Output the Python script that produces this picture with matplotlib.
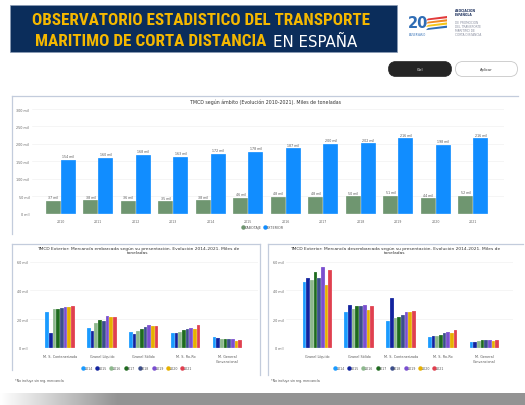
import matplotlib
matplotlib.use('Agg')
import matplotlib.pyplot as plt
import numpy as np
from matplotlib.patches import Rectangle, FancyBboxPatch, Polygon
from matplotlib.lines import Line2D
from matplotlib import font_manager

# ---------------- data ----------------
years_top = ['2010', '2011', '2012', '2013', '2014', '2015', '2016', '2017', '2018', '2019', '2020', '2021']
cabotaje = [37, 38, 36, 35, 38, 46, 48, 48, 50, 51, 44, 52]
exterior = [154, 160, 168, 163, 172, 178, 187, 200, 202, 216, 198, 216]
top_ticks = [0, 50, 100, 150, 200, 250, 300]

years_bottom = ['2014', '2015', '2016', '2017', '2018', '2019', '2020', '2021']
cats_emb = ['M. S. Contenerizada', 'Granel Líquido', 'Granel Sólido', 'M. S. Ro-Ro', 'M. General\nConvencional']
emb_2014 = [24.8, 14.1, 10.9, 10.7, 7.6]
emb_2015 = [10.2, 11.8, 9.5, 10.7, 6.7]
emb_2016 = [26.9, 17.4, 12.0, 11.4, 6.5]
emb_2017 = [27.3, 19.2, 13.2, 12.3, 6.3]
emb_2018 = [27.8, 18.5, 14.4, 13.0, 6.3]
emb_2019 = [28.7, 22.2, 15.8, 13.9, 6.0]
emb_2020 = [28.7, 21.8, 15.5, 13.0, 4.9]
emb_2021 = [29.4, 21.3, 15.3, 16.2, 5.3]

cats_des = ['Granel Líquido', 'Granel Sólido', 'M. S. Contenerizada', 'M. S. Ro-Ro', 'M. General\nConvencional']
des_2014 = [45.7, 24.8, 18.5, 7.6, 3.9]
des_2015 = [48.7, 29.7, 34.5, 8.6, 4.2]
des_2016 = [47.3, 27.1, 20.6, 8.6, 4.6]
des_2017 = [52.6, 29.4, 21.6, 9.3, 5.3]
des_2018 = [48.4, 29.2, 22.9, 10.7, 5.6]
des_2019 = [56.3, 29.7, 24.8, 11.4, 5.6]
des_2020 = [43.8, 26.2, 25.3, 10.7, 5.1]
des_2021 = [54.2, 29.2, 26.0, 12.7, 5.8]
bottom_ticks = [0, 20, 40, 60]

emb_series = [emb_2014, emb_2015, emb_2016, emb_2017, emb_2018, emb_2019, emb_2020, emb_2021]
des_series = [des_2014, des_2015, des_2016, des_2017, des_2018, des_2019, des_2020, des_2021]

# ---------------- style ----------------
W, H = 525, 406
C_CAB = '#6F9670'
C_EXT = '#118DFF'
YEAR_COLORS = ['#1A9BFF', '#12239E', '#8DB88D', '#1E6B1E', '#3B4E8C', '#7A4FD0', '#E6B000', '#E0404F']
BORDER = '#C3CCDC'
GRID = '#EEEEEE'

names = {f.name for f in font_manager.fontManager.ttflist}
narrow = 'DejaVu Sans'
for cand in ['Roboto Condensed', 'Liberation Sans Narrow', 'Open Sans Condensed']:
    if cand in names:
        narrow = cand
        break
plt.rcParams['font.family'] = ['DejaVu Sans']

fig = plt.figure(figsize=(W / 100, H / 100), dpi=100)
fig.patch.set_facecolor('white')


def pax(x0, y0, x1, y1):
    """axes rectangle from pixel box (top-left origin)"""
    return [x0 / W, 1 - y1 / H, (x1 - x0) / W, (y1 - y0) / H]


# overlay axes in pixel units
ov = fig.add_axes([0, 0, 1, 1], zorder=0)
ov.set_xlim(0, W)
ov.set_ylim(H, 0)
ov.axis('off')

# header banner
ov.add_patch(Rectangle((10, 6), 387, 47, facecolor='#0B2D5B', edgecolor='#8A9BB5', lw=0.5))
renderer = fig.canvas.get_renderer()


def fit_text(x, y, s, width, **kw):
    t = ov.text(x, y, s, va='center', ha='left', **kw)
    bb = t.get_window_extent(renderer=renderer)
    t.set_fontsize(t.get_fontsize() * width / bb.width)
    return t


fit_text(31.7, 20.7, 'OBSERVATORIO ESTADISTICO DEL TRANSPORTE', 340,
         fontsize=14, fontweight='bold', color='#F5B800', family=narrow)
fit_text(35, 41.7, 'MARITIMO DE CORTA DISTANCIA', 233,
         fontsize=14, fontweight='bold', color='#F5B800', family=narrow)
fit_text(273, 42.2, 'EN ESPAÑA', 84, fontsize=12, color='white', family='DejaVu Sans')

# logo
ov.text(418, 24, '20', fontsize=10.5, color='#2F6DB5', ha='center', va='center', fontweight='bold')
for i, c in enumerate(['#E23A3A', '#F08A24', '#F5C518', '#2F6DB5']):
    yy = 17 + i * 3.2
    ov.add_patch(Polygon([[428, yy + 2.5], [447, yy], [447, yy + 2.2], [426, yy + 4.5]],
                         closed=True, facecolor=c, edgecolor='none'))
ov.text(418, 34.5, 'ANIVERSARIO', fontsize=1.8, color='#2F6DB5', ha='center', va='center')
ov.text(455, 13, 'ASOCIACION\nESPAÑOLA', fontsize=2.2, color='#1B2F5C', ha='left', va='center',
        fontweight='bold', linespacing=1.0)
ov.text(455, 29, 'DE PROMOCION\nDEL TRANSPORTE\nMARITIMO DE\nCORTA DISTANCIA', fontsize=2.2,
        color='#8A8FA0', ha='left', va='center', linespacing=1.0)

# buttons
ov.add_patch(FancyBboxPatch((388.5, 62.5), 63, 15, boxstyle='round,pad=0,rounding_size=7.5',
                            facecolor='#252525', edgecolor='#252525', lw=0.5))
ov.text(420, 70, 'Ctrl', fontsize=2.6, color='white', ha='center', va='center')
ov.add_patch(FancyBboxPatch((455.5, 62.5), 62, 15, boxstyle='round,pad=0,rounding_size=7.5',
                            facecolor='white', edgecolor='#C8C8C8', lw=0.6))
ov.text(486.5, 70, 'Aplicar', fontsize=2.6, color='#333333', ha='center', va='center')

# panel borders
for (xs, ys) in [([12, 12], [97, 235]), ([12, 518], [97, 97]),
                 ([12, 12], [245, 371]), ([12, 260], [245, 245]), ([260, 260], [245, 376]),
                 ([268, 268], [245, 376]), ([268, 523], [245, 245])]:
    ov.add_line(Line2D(xs, ys, color=BORDER, lw=0.9))

# bottom gray band with fade
grad = np.clip(np.linspace(0, 1, 525) * 4.5, 0, 1)
img = np.ones((12, 525, 3))
shade = 1 - 0.42 * grad
for k in range(3):
    img[:, :, k] = shade
ov.imshow(img, extent=(0, 525, 406, 394), aspect='auto', interpolation='bilinear', zorder=0)
ov.set_xlim(0, W)
ov.set_ylim(H, 0)


def style_axes(ax, ticks):
    ax.set_facecolor('none')
    for s in ax.spines.values():
        s.set_visible(False)
    ax.set_yticks(ticks)
    ax.set_yticklabels([f'{t} mil' for t in ticks], fontsize=2.4, color='#666666')
    ax.tick_params(axis='both', length=0, pad=2)
    ax.grid(axis='y', color=GRID, lw=0.4)
    ax.set_axisbelow(True)


# ---------------- top chart ----------------
ax1 = fig.add_axes(pax(32, 110, 504, 214.7), zorder=2)
x = np.arange(len(years_top))
bw = 0.4
b1 = ax1.bar(x - bw / 2, cabotaje, bw, color=C_CAB, edgecolor='white', lw=0.2)
b2 = ax1.bar(x + bw / 2, exterior, bw, color=C_EXT, edgecolor='white', lw=0.2)
ax1.set_ylim(0, 300)
ax1.set_xlim(-0.765, 11.82)
style_axes(ax1, top_ticks)
ax1.set_xticks(x)
ax1.set_xticklabels(years_top, fontsize=2.3, color='#666666')
ax1.tick_params(axis='x', pad=4)
ax1.bar_label(b1, labels=[f'{v} mil' for v in cabotaje], fontsize=2.3, color='#555555', padding=1.2)
ax1.bar_label(b2, labels=[f'{v} mil' for v in exterior], fontsize=2.3, color='#555555', padding=1.2)
ov.text(265, 102, 'TMCD según ámbito (Evolución 2010-2021). Miles de toneladas', fontsize=3.4,
        color='#333333', ha='center', va='center')
h_top = [Line2D([], [], marker='o', ls='', color=C_CAB, markersize=2.2),
         Line2D([], [], marker='o', ls='', color=C_EXT, markersize=2.2)]
fig.legend(h_top, ['CABOTAJE', 'EXTERIOR'], loc='center', bbox_to_anchor=(263 / W, 1 - 228 / H),
           ncol=2, frameon=False, fontsize=2.4, handletextpad=0.1, columnspacing=0.6,
           handlelength=0.8, labelcolor='#555555')


# ---------------- bottom charts ----------------
def grouped(ax, cats, series, xlim):
    xc = np.arange(len(cats))
    w = 0.088
    for i, (vals, col) in enumerate(zip(series, YEAR_COLORS)):
        ax.bar(xc + (i - 3.5) * w, vals, w, color=col, edgecolor='white', lw=0.15)
    ax.set_ylim(0, 60)
    ax.set_xlim(*xlim)
    style_axes(ax, bottom_ticks)
    ax.set_xticks(xc)
    ax.set_xticklabels(cats, fontsize=2.4, color='#555555', linespacing=1.3)
    ax.tick_params(axis='x', pad=4.5)


ax2 = fig.add_axes(pax(30, 262.7, 258, 349), zorder=2)
grouped(ax2, cats_emb, emb_series, (-0.716, 4.73))
ax3 = fig.add_axes(pax(286, 262.7, 513, 349), zorder=2)
grouped(ax3, cats_des, des_series, (-0.755, 4.69))

ov.text(138, 251, 'TMCD Exterior: Mercancía embarcada según su presentación. Evolución 2014-2021. Miles de\ntoneladas',
        fontsize=3.2, color='#333333', ha='center', va='center', linespacing=1.0)
ov.text(395, 251, 'TMCD Exterior: Mercancía desembarcada según su presentación. Evolución 2014-2021. Miles de\ntoneladas',
        fontsize=3.2, color='#333333', ha='center', va='center', linespacing=1.0)

h_yr = [Line2D([], [], marker='o', ls='', color=c, markersize=2.2) for c in YEAR_COLORS]
for cx in (137, 389):
    fig.legend(h_yr, years_bottom, loc='center', bbox_to_anchor=(cx / W, 1 - 369.5 / H),
               ncol=8, frameon=False, fontsize=2.3, handletextpad=0.1, columnspacing=0.9,
               handlelength=0.8, labelcolor='#555555')

ov.text(15, 381, '*No incluye sin reg. mercancía', fontsize=2.3, color='#555555', ha='left', va='center')
ov.text(271, 381, '*No incluye sin reg. mercancía', fontsize=2.3, color='#555555', ha='left', va='center')

fig.savefig('out.png', dpi=100, facecolor='white')
